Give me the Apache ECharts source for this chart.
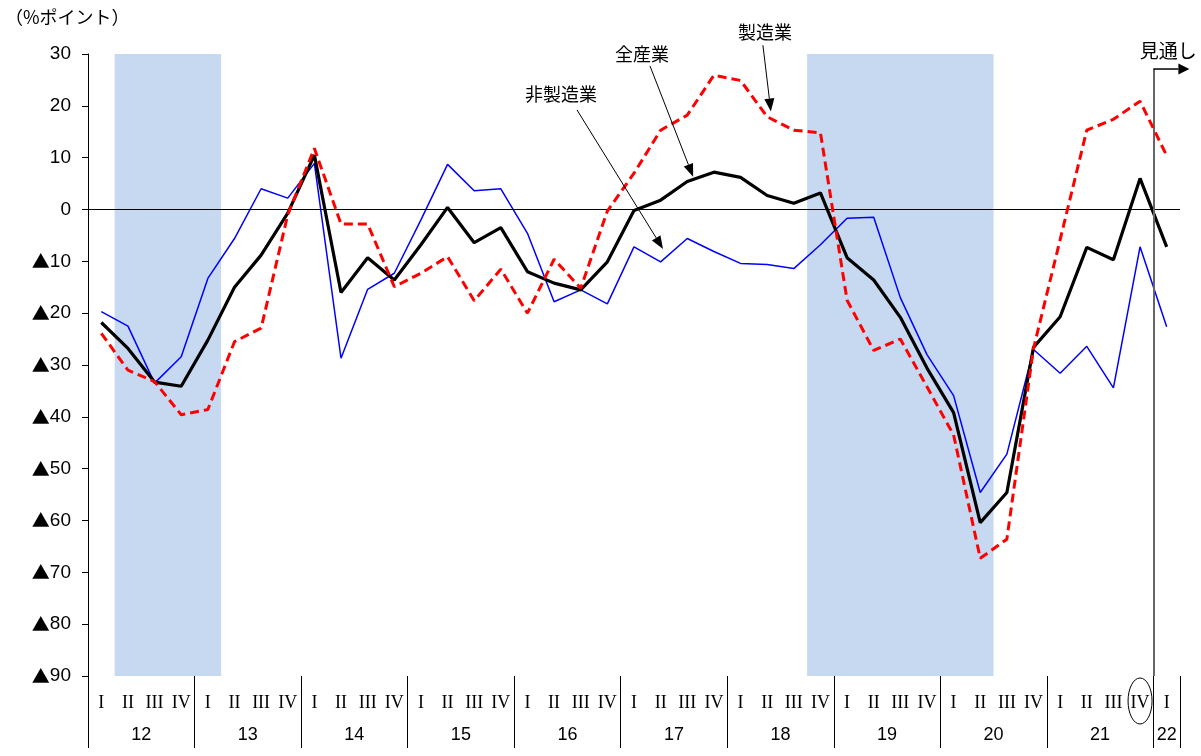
<!DOCTYPE html>
<html><head><meta charset="utf-8">
<script src="https://cdn.jsdelivr.net/npm/echarts@6/dist/echarts.min.js"></script>
<style>html,body{margin:0;padding:0;background:#fff}#c{width:1201px;height:756px}</style>
</head><body><div id="c"></div>
<script>
// ---- data ----
const quarterLabels = ['I','II','III','IV','I','II','III','IV','I','II','III','IV','I','II','III','IV',
  'I','II','III','IV','I','II','III','IV','I','II','III','IV','I','II','III','IV','I','II','III','IV',
  'I','II','III','IV','I'];
const yearLabels = ['12','13','14','15','16','17','18','19','20','21','22'];
// 全産業
const allIndustries = [-21.8,-26.8,-33.3,-34.1,-25.2,-15.0,-8.8,-0.7,10.5,-16.0,-9.3,-13.6,-6.8,0.4,-6.4,-3.5,
  -12.0,-14.2,-15.5,-10.1,-0.2,1.8,5.4,7.2,6.2,2.7,1.2,3.2,-9.3,-13.6,-20.8,-30.6,-39.2,-60.4,-54.6,-26.6,
  -20.7,-7.3,-9.7,6.0,-7.2];
// 製造業
const manufacturing = [-23.9,-31.0,-33.2,-39.6,-38.6,-25.5,-22.9,-1.0,11.8,-2.8,-2.8,-14.9,-12.3,-9.1,-17.6,-11.5,
  -20.0,-9.6,-15.2,-0.3,7.0,15.3,18.2,25.9,24.9,17.9,15.3,14.8,-17.5,-27.2,-25.0,-34.2,-43.5,-67.3,-63.6,-26.8,
  -5.8,15.3,17.4,20.9,10.4];
// 非製造業
const nonManufacturing = [-19.7,-22.5,-33.5,-28.4,-13.3,-5.6,4.0,2.2,8.9,-28.7,-15.4,-12.3,-2.0,8.7,3.6,4.0,
  -4.6,-17.8,-15.5,-18.2,-7.2,-10.1,-5.6,-8.1,-10.4,-10.6,-11.4,-6.8,-1.7,-1.5,-17.0,-28.0,-35.9,-54.6,-47.2,-27.0,
  -31.6,-26.4,-34.4,-7.2,-22.6];
// shaded periods, in quarter units from the start of 2012 Q1
const shadedPeriods = [[1,5],[27,34]];
const yearBoundaries = [0,4,8,12,16,20,24,28,32,36,40,41];
const yearCenters = [2,6,10,14,18,22,26,30,34,38,40.5];
const outlookAt = 40;
const outlookTop = 27.1;
// annotations: text anchor and arrow (in quarter units / % points)
const annotations = [
  {text:'製造業', pos:[25.42,34.2], from:[25.34,31.7], to:[25.64,18.9]},
  {text:'全産業', pos:[20.80,30.0], from:[21.10,27.7], to:[22.72,6.3]},
  {text:'非製造業', pos:[17.76,22.3], from:[18.36,19.2], to:[21.59,-7.6]}
];

const chart = echarts.init(document.getElementById('c'));
const JP = '"Noto Sans CJK JP", sans-serif';

chart.setOption({
  animation:false,
  backgroundColor:'#fff',
  grid:{left:88, right:21, top:54, bottom:80, containLabel:false},
  xAxis:[
    {type:'category', data:quarterLabels, boundaryGap:true, position:'bottom',
     axisLine:{show:false}, axisTick:{show:false}, splitLine:{show:false},
     axisLabel:{interval:0, margin:18, fontSize:18, fontWeight:'normal', color:'#000', fontFamily:'"Liberation Serif", serif'}},
    {type:'value', min:0, max:41, position:'bottom', splitLine:{show:false},
     axisLine:{show:false},
     axisTick:{show:true, customValues:yearBoundaries, length:72, inside:false, lineStyle:{color:'#000', width:1}},
     axisLabel:{show:true, customValues:yearCenters, margin:50, fontSize:18, color:'#000', fontFamily:'"Liberation Sans", sans-serif',
       formatter:function(v){const i=yearCenters.indexOf(v);return i>=0?yearLabels[i]:'';}}}
  ],
  yAxis:{type:'value', min:-90, max:30, interval:10,
    axisLine:{show:true, lineStyle:{color:'#000', width:1}},
    axisTick:{show:true, length:6, lineStyle:{color:'#000'}},
    splitLine:{show:false},
    axisLabel:{margin:17, color:'#000',
      formatter:function(v){return v<0?'{t|▲}{n|'+(-v)+'}':'{n|'+v+'}';},
      rich:{t:{fontFamily:JP, fontSize:18, color:'#000'}, n:{fontFamily:'"Liberation Sans", sans-serif', fontSize:19, color:'#000'}}}},
  series:[
    {type:'line', xAxisIndex:1, yAxisIndex:0, data:[[0,0]], showSymbol:false, silent:true,
     lineStyle:{width:0, opacity:0}, z:1,
     markArea:{silent:true, itemStyle:{color:'#C6D9F0'},
       data:shadedPeriods.map(p=>[{xAxis:p[0], yAxis:30},{xAxis:p[1], yAxis:-90}])},
     markLine:{silent:true, symbol:'none', label:{show:false},
       data:[
         [{coord:[0,0], lineStyle:{color:'#000', width:1, type:'solid'}},{coord:[41,0]}],
         [{coord:[outlookAt,outlookTop], lineStyle:{color:'#666', width:2, type:'solid'}},{coord:[outlookAt,-90]}]
       ]}},
    {name:'非製造業', type:'line', data:nonManufacturing, showSymbol:false, z:3,
     lineStyle:{color:'#0000FF', width:1.5}},
    {name:'全産業', type:'line', data:allIndustries, showSymbol:false, z:4,
     lineStyle:{color:'#000000', width:3.2}},
    {name:'製造業', type:'line', data:manufacturing, showSymbol:false, z:5,
     lineStyle:{color:'#FF0000', width:3, type:[9,5]}}
  ]
});

// ---- annotations ----
function px(v){return chart.convertToPixel({xAxisIndex:1, yAxisIndex:0}, v);}
function arrowEls(p0,p1,len,half,w,color){
  const dx=p1[0]-p0[0], dy=p1[1]-p0[1], d=Math.hypot(dx,dy), ux=dx/d, uy=dy/d;
  const bx=p1[0]-ux*len, by=p1[1]-uy*len;
  return [
    {type:'line', shape:{x1:p0[0],y1:p0[1],x2:bx,y2:by}, style:{stroke:color, lineWidth:w}, z:20},
    {type:'polygon', shape:{points:[[p1[0],p1[1]],[bx-uy*half,by+ux*half],[bx+uy*half,by-ux*half]]}, style:{fill:color}, z:20}
  ];
}
const g = [];
g.push({type:'text', left:5, top:8, style:{text:'（%ポイント）', font:'18px '+JP, fill:'#000'}});
annotations.forEach(a=>{
  const p=px(a.pos);
  g.push({type:'text', x:p[0], y:p[1], style:{text:a.text, font:'18px '+JP, fill:'#000', align:'center', verticalAlign:'middle'}, z:20});
  g.push(...arrowEls(px(a.from), px(a.to), 13, 5, 1, '#000'));
});
// outlook marker
const ot = px([outlookAt, outlookTop]);
g.push(...arrowEls([ot[0], ot[1]], [ot[0]+36, ot[1]], 11, 5.5, 1.5, '#000'));
g.push({type:'text', x:ot[0]+15, y:ot[1]-18, style:{text:'見通し', font:'19px '+JP, fill:'#000', align:'center', verticalAlign:'middle'}, z:20});
// circle around the latest quarter
const cq = chart.convertToPixel({xAxisIndex:0}, 39);
g.push({type:'ellipse', shape:{cx:cq, cy:701, rx:12, ry:23}, style:{fill:null, stroke:'#000', lineWidth:1}, z:20});
chart.setOption({graphic:g});
</script></body></html>
